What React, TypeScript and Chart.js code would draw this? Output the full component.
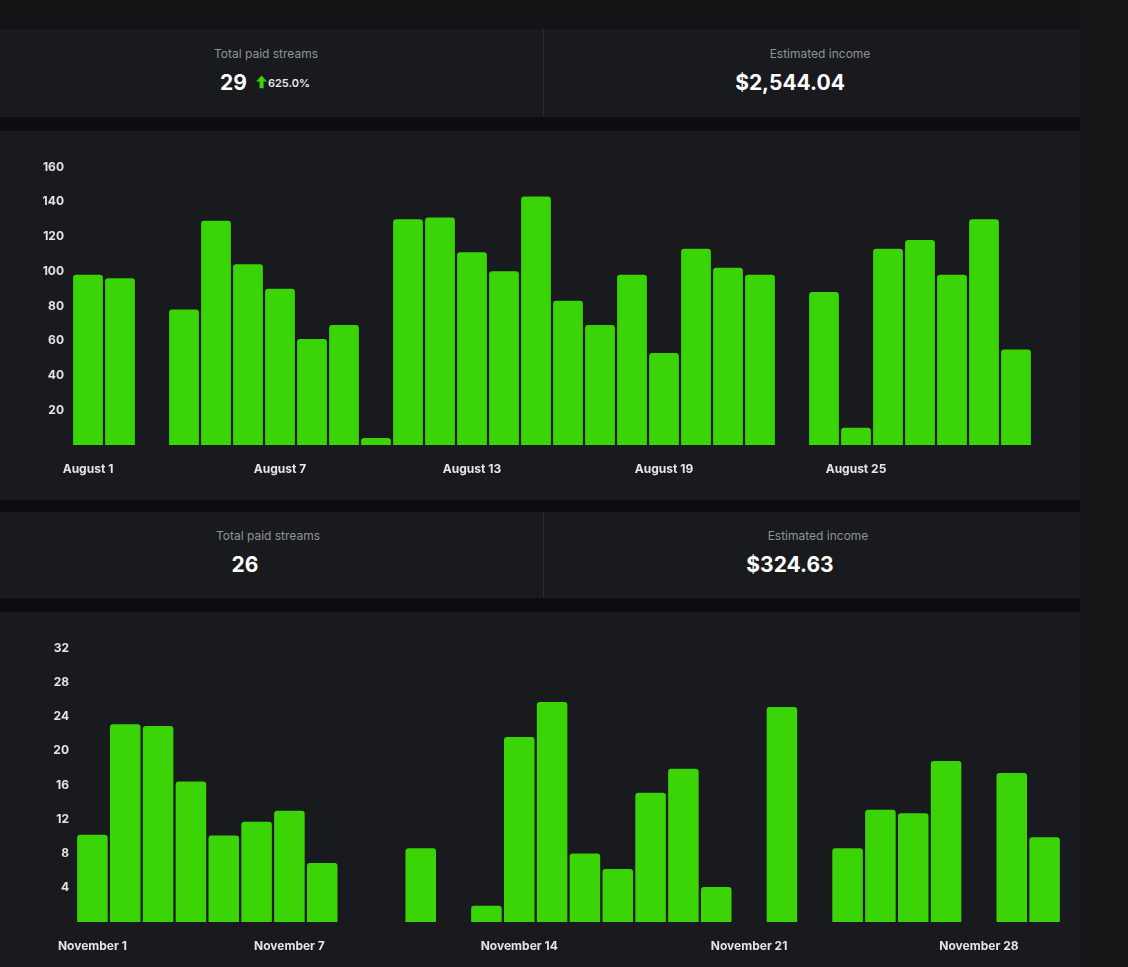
import React, { useEffect, useRef } from "react";
import { Chart, registerables } from "chart.js";

Chart.register(...registerables);

// August daily paid streams
const augustDays = [
  "August 1", "August 2", "August 3", "August 4", "August 5", "August 6", "August 7",
  "August 8", "August 9", "August 10", "August 11", "August 12", "August 13", "August 14",
  "August 15", "August 16", "August 17", "August 18", "August 19", "August 20", "August 21",
  "August 22", "August 23", "August 24", "August 25", "August 26", "August 27", "August 28",
  "August 29", "August 30", "August 31",
];
const augustValues = [
  98, 96, 0, 78, 129, 104, 90, 61, 69, 4, 130, 131, 111, 100, 143, 83, 69, 98, 53, 113,
  102, 98, 0, 88, 10, 113, 118, 98, 130, 55, 0,
];
const augustTicks = ["August 1", "August 7", "August 13", "August 19", "August 25"];

// November daily paid streams
const novemberDays = [
  "November 1", "November 2", "November 3", "November 4", "November 5", "November 6",
  "November 7", "November 8", "November 9", "November 10", "November 11", "November 12",
  "November 13", "November 14", "November 15", "November 16", "November 17", "November 18",
  "November 19", "November 20", "November 21", "November 22", "November 23", "November 24",
  "November 25", "November 26", "November 27", "November 28", "November 29", "November 30",
];
const novemberValues = [
  10.2, 23.1, 22.9, 16.4, 10.1, 11.7, 13.0, 6.9, 0, 0, 8.6, 0, 1.9, 21.6, 25.7, 8.0, 6.2,
  15.1, 17.9, 4.1, 0, 25.1, 0, 8.6, 13.1, 12.7, 18.8, 0, 17.4, 9.9,
];
const novemberTicks = ["November 1", "November 7", "November 14", "November 21", "November 28"];

const GREEN = "#3bd406";
const PANEL = "#181a1d";
const GAP = "#0c0d0f";
const TICK = "#e4e5e7";
const FONT = "Inter, 'Noto Sans', sans-serif";

type BarProps = {
  labels: string[];
  values: number[];
  shown: string[];
  max: number;
  step: number;
  yWidth: number;
  yPad: number;
  padRight: number;
  padBottom: number;
};

const BarPanel: React.FC<BarProps> = ({
  labels,
  values,
  shown,
  max,
  step,
  yWidth,
  yPad,
  padRight,
  padBottom,
}) => {
  const canvasRef = useRef<HTMLCanvasElement>(null);

  useEffect(() => {
    if (!canvasRef.current) return;
    const chart = new Chart(canvasRef.current, {
      type: "bar",
      data: {
        labels,
        datasets: [
          {
            data: values,
            backgroundColor: GREEN,
            borderRadius: 3,
            borderSkipped: "bottom",
            barPercentage: 0.93,
            categoryPercentage: 1,
          },
        ],
      },
      options: {
        animation: false,
        responsive: false,
        maintainAspectRatio: false,
        layout: { padding: { top: 36, right: padRight, bottom: padBottom, left: 0 } },
        plugins: { legend: { display: false }, tooltip: { enabled: false } },
        scales: {
          x: {
            grid: { display: false, drawTicks: false },
            border: { display: false },
            ticks: {
              autoSkip: false,
              maxRotation: 0,
              minRotation: 0,
              padding: 17,
              color: TICK,
              font: { family: FONT, size: 12, weight: "bold" },
              callback: (_v: any, i: number) => (shown.includes(labels[i]) ? labels[i] : ""),
            },
            afterFit: (axis: any) => {
              axis.height = 31;
            },
          },
          y: {
            min: 0,
            max,
            grid: { display: false, drawTicks: false },
            border: { display: false },
            ticks: {
              stepSize: step,
              padding: yPad,
              color: TICK,
              font: { family: FONT, size: 12, weight: "bold" },
              callback: (v: any) => (v === 0 ? "" : v),
            },
            afterFit: (axis: any) => {
              axis.width = yWidth;
            },
          },
        },
      },
    });
    return () => chart.destroy();
  }, []);

  return (
    <canvas
      ref={canvasRef}
      width={1080}
      height={369}
      style={{ display: "block", width: 1080, height: 369 }}
    />
  );
};

const abs = (left: number, top: number): React.CSSProperties => ({
  position: "absolute",
  left,
  top,
  transform: "translate(-50%, -50%)",
  whiteSpace: "nowrap",
});

const labelStyle: React.CSSProperties = {
  fontFamily: FONT,
  fontSize: 12,
  color: "#8f949a",
};

const valueStyle: React.CSSProperties = {
  fontFamily: FONT,
  fontSize: 21,
  fontWeight: 700,
  color: "#ffffff",
};

const UpArrow = () => (
  <svg width="11" height="13" viewBox="0 0 11 13" style={{ display: "block" }}>
    <polygon points="0,6 5.5,0 11,6" fill={GREEN} />
    <rect x="3.5" y="5.5" width="4" height="7.5" fill={GREEN} />
  </svg>
);

const Band = ({ top, height, color }: { top: number; height: number; color: string }) => (
  <div style={{ position: "absolute", left: 0, top, width: 1080, height, background: color }} />
);

export default function App() {
  return (
    <div
      style={{
        position: "fixed",
        left: 0,
        top: 0,
        width: 1128,
        height: 967,
        overflow: "hidden",
        background: "#131416",
      }}
    >
      <div style={{ position: "absolute", left: 1080, top: 0, width: 48, height: 967, background: "#151618" }} />

      {/* first stats row */}
      <Band top={29} height={88} color={PANEL} />
      <div style={{ position: "absolute", left: 543, top: 29, width: 1, height: 88, background: "#2a2c30" }} />
      <div style={{ ...abs(266, 53), ...labelStyle }}>Total paid streams</div>
      <div style={{ ...abs(265, 82), display: "flex", alignItems: "center" }}>
        <span style={valueStyle}>29</span>
        <span style={{ marginLeft: 9, marginRight: 1 }}>
          <UpArrow />
        </span>
        <span style={{ fontFamily: FONT, fontSize: 11, fontWeight: 600, color: "#e8e9eb" }}>625.0%</span>
      </div>
      <div style={{ ...abs(820, 53), ...labelStyle }}>Estimated income</div>
      <div style={{ ...abs(790, 82), ...valueStyle }}>$2,544.04</div>

      <Band top={117} height={14} color={GAP} />

      {/* August chart */}
      <div style={{ position: "absolute", left: 0, top: 131, width: 1080, height: 369, background: PANEL }}>
        <BarPanel
          labels={augustDays}
          values={augustValues}
          shown={augustTicks}
          max={160}
          step={20}
          yWidth={72}
          yPad={8}
          padRight={16}
          padBottom={24}
        />
      </div>

      <Band top={500} height={12} color={GAP} />

      {/* second stats row */}
      <Band top={512} height={86} color={PANEL} />
      <div style={{ position: "absolute", left: 543, top: 512, width: 1, height: 86, background: "#2a2c30" }} />
      <div style={{ ...abs(268, 535), ...labelStyle }}>Total paid streams</div>
      <div style={{ ...abs(245, 564), ...valueStyle }}>26</div>
      <div style={{ ...abs(818, 535), ...labelStyle }}>Estimated income</div>
      <div style={{ ...abs(790, 564), ...valueStyle }}>$324.63</div>

      <Band top={598} height={14} color={GAP} />

      {/* November chart */}
      <div style={{ position: "absolute", left: 0, top: 612, width: 1080, height: 369, background: PANEL }}>
        <BarPanel
          labels={novemberDays}
          values={novemberValues}
          shown={novemberTicks}
          max={32}
          step={4}
          yWidth={76}
          yPad={7}
          padRight={19}
          padBottom={28}
        />
      </div>
    </div>
  );
}
